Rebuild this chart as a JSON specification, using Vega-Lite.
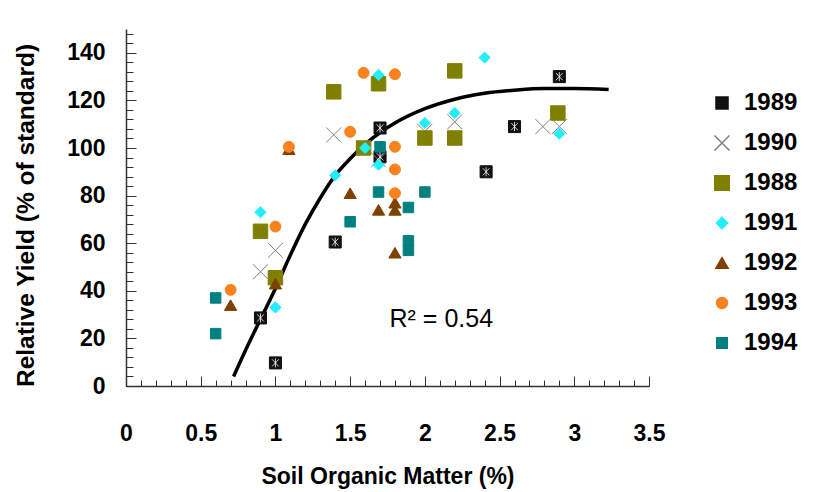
{
  "$schema": "https://vega.github.io/schema/vega-lite/v6.json",
  "width": 523,
  "height": 357,
  "autosize": "none",
  "padding": {"left": 126, "top": 29, "right": 166, "bottom": 106},
  "background": "white",
  "config": {
    "view": {"stroke": null},
    "font": "Liberation Sans",
    "axis": {"grid": false, "domainColor": "#333", "tickColor": "#333", "labelColor": "#000", "titleColor": "#000"}
  },
  "datasets": {
    "curve": [
      {"som": 0.72, "yield": 4}, {"som": 0.8, "yield": 15}, {"som": 0.9, "yield": 28},
      {"som": 1.0, "yield": 41}, {"som": 1.1, "yield": 55}, {"som": 1.2, "yield": 68},
      {"som": 1.3, "yield": 79}, {"som": 1.4, "yield": 88.5}, {"som": 1.5, "yield": 95.5},
      {"som": 1.6, "yield": 101.5}, {"som": 1.7, "yield": 106.5}, {"som": 1.8, "yield": 110.5},
      {"som": 2.0, "yield": 116.5}, {"som": 2.2, "yield": 120.5}, {"som": 2.4, "yield": 123},
      {"som": 2.6, "yield": 124.3}, {"som": 2.8, "yield": 125}, {"som": 3.0, "yield": 125},
      {"som": 3.23, "yield": 124.6}
    ],
    "pts": [
      {"year": "1989", "som": 1.7, "yield": 108.4},
      {"year": "1989", "som": 1.7, "yield": 96.3},
      {"year": "1989", "som": 1.4, "yield": 60.5},
      {"year": "1989", "som": 0.9, "yield": 28.6},
      {"year": "1989", "som": 1.0, "yield": 9.7},
      {"year": "1989", "som": 2.9, "yield": 130},
      {"year": "1989", "som": 2.6, "yield": 109},
      {"year": "1989", "som": 2.41, "yield": 90},
      {"year": "1990", "som": 1.0, "yield": 57},
      {"year": "1990", "som": 0.9, "yield": 48},
      {"year": "1990", "som": 1.39, "yield": 105.5},
      {"year": "1990", "som": 1.69, "yield": 95},
      {"year": "1990", "som": 2.0, "yield": 107},
      {"year": "1990", "som": 2.2, "yield": 111},
      {"year": "1990", "som": 2.79, "yield": 109},
      {"year": "1990", "som": 2.9, "yield": 109},
      {"year": "1988", "som": 1.39, "yield": 123.6},
      {"year": "1988", "som": 1.69, "yield": 127},
      {"year": "1988", "som": 2.2, "yield": 132.4},
      {"year": "1988", "som": 1.59, "yield": 100},
      {"year": "1988", "som": 2.0, "yield": 104.2},
      {"year": "1988", "som": 2.2, "yield": 104.2},
      {"year": "1988", "som": 2.89, "yield": 114.7},
      {"year": "1988", "som": 0.9, "yield": 65},
      {"year": "1988", "som": 1.0, "yield": 45.5},
      {"year": "1991", "som": 0.9, "yield": 73},
      {"year": "1991", "som": 1.0, "yield": 33},
      {"year": "1991", "som": 1.4, "yield": 88.5},
      {"year": "1991", "som": 1.6, "yield": 100},
      {"year": "1991", "som": 1.69, "yield": 130.7},
      {"year": "1991", "som": 1.69, "yield": 93},
      {"year": "1991", "som": 2.0, "yield": 110.5},
      {"year": "1991", "som": 2.2, "yield": 114.7},
      {"year": "1991", "som": 2.4, "yield": 138},
      {"year": "1991", "som": 2.9, "yield": 106},
      {"year": "1992", "som": 1.09, "yield": 99.5},
      {"year": "1992", "som": 1.0, "yield": 43},
      {"year": "1992", "som": 0.7, "yield": 34},
      {"year": "1992", "som": 1.5, "yield": 81},
      {"year": "1992", "som": 1.69, "yield": 74},
      {"year": "1992", "som": 1.8, "yield": 77},
      {"year": "1992", "som": 1.8, "yield": 74},
      {"year": "1992", "som": 1.8, "yield": 56},
      {"year": "1993", "som": 1.09, "yield": 100.5},
      {"year": "1993", "som": 1.0, "yield": 67},
      {"year": "1993", "som": 0.7, "yield": 40.4},
      {"year": "1993", "som": 1.59, "yield": 131.6},
      {"year": "1993", "som": 1.8, "yield": 131},
      {"year": "1993", "som": 1.5, "yield": 106.8},
      {"year": "1993", "som": 1.8, "yield": 100.5},
      {"year": "1993", "som": 1.8, "yield": 91},
      {"year": "1993", "som": 1.8, "yield": 81},
      {"year": "1994", "som": 0.6, "yield": 37},
      {"year": "1994", "som": 0.6, "yield": 22},
      {"year": "1994", "som": 1.7, "yield": 100.5},
      {"year": "1994", "som": 1.69, "yield": 81.5},
      {"year": "1994", "som": 2.0, "yield": 81.5},
      {"year": "1994", "som": 1.89, "yield": 75},
      {"year": "1994", "som": 1.5, "yield": 69},
      {"year": "1994", "som": 1.89, "yield": 61},
      {"year": "1994", "som": 1.89, "yield": 57}
    ]
  },
  "layer": [
    {
      "data": {"name": "curve"},
      "mark": {"type": "line", "color": "black", "strokeWidth": 3.5, "interpolate": "monotone"},
      "encoding": {
        "x": {"field": "som", "type": "quantitative", "scale": {"domain": [0, 3.5], "nice": false, "zero": false},
          "axis": {"orient": "bottom", "values": [0,0.1,0.2,0.3,0.4,0.5,0.6,0.7,0.8,0.9,1,1.1,1.2,1.3,1.4,1.5,1.6,1.7,1.8,1.9,2,2.1,2.2,2.3,2.4,2.5,2.6,2.7,2.8,2.9,3,3.1,3.2,3.3,3.4,3.5],
            "labels": false, "title": null, "tickSize": -6, "domain": true, "domainWidth": 1.5}},
        "y": {"field": "yield", "type": "quantitative", "scale": {"domain": [0, 150], "nice": false},
          "axis": {"orient": "left", "values": [0,4,8,12,16,20,24,28,32,36,40,44,48,52,56,60,64,68,72,76,80,84,88,92,96,100,104,108,112,116,120,124,128,132,136,140,144,148],
            "labels": false, "title": null, "tickSize": -7, "domain": true, "domainWidth": 1.5}}
      }
    },
    {
      "data": {"name": "pts"},
      "mark": {"type": "point", "opacity": 1, "strokeWidth": 1},
      "encoding": {
        "x": {"field": "som", "type": "quantitative",
          "axis": {"orient": "bottom", "values": [0,0.5,1,1.5,2,2.5,3,3.5], "labels": false, "title": null, "tickSize": -10, "domain": false}},
        "y": {"field": "yield", "type": "quantitative",
          "axis": {"orient": "left", "values": [0,20,40,60,80,100,120,140], "labels": false, "title": null, "tickSize": -10, "domain": false}},
        "shape": {"field": "year", "type": "nominal",
          "scale": {"domain": ["1989","1990","1988","1991","1992","1993","1994"],
            "range": ["square", "M-1,-1L1,1M-1,1L1,-1", "square", "diamond", "triangle-up", "circle", "square"]},
          "legend": {"orient": "none", "legendX": 584, "legendY": 62, "title": null, "padding": 0,
            "labelFontSize": 24, "labelFontWeight": "bold", "labelColor": "#000", "labelOffset": 10, "rowPadding": 16}},
        "fill": {"field": "year", "type": "nominal",
          "scale": {"domain": ["1989","1990","1988","1991","1992","1993","1994"],
            "range": ["#111111", "transparent", "#808000", "#22EEF8", "#804000", "#F7821E", "#008080"]}},
        "stroke": {"field": "year", "type": "nominal",
          "scale": {"domain": ["1989","1990","1988","1991","1992","1993","1994"],
            "range": ["#111111", "#808080", "#808000", "#22EEF8", "#804000", "#F7821E", "#008080"]}},
        "size": {"field": "year", "type": "nominal",
          "scale": {"type": "ordinal", "domain": ["1989","1990","1988","1991","1992","1993","1994"],
            "range": [145, 225, 210, 125, 150, 120, 110]}}
      }
    },
    {
      "data": {"name": "pts"},
      "transform": [{"filter": "datum.year === '1989'"}],
      "mark": {"type": "point", "shape": "M-0.55,-0.6L0.55,0.6M-0.55,0.6L0.55,-0.6M0,-0.75L0,0.75", "size": 145, "stroke": "white", "strokeWidth": 0.8, "filled": false, "opacity": 1},
      "encoding": {
        "x": {"field": "som", "type": "quantitative",
          "axis": {"orient": "bottom", "values": [0,0.5,1,1.5,2,2.5,3,3.5], "format": "~g", "ticks": false, "domain": false, "labelPadding": 36,
            "labelFontSize": 23, "labelFontWeight": "bold", "labelFlush": false, "labelOverlap": false,
            "title": "Soil Organic Matter (%)", "titleFontSize": 23, "titleFontWeight": "bold", "titlePadding": 20}},
        "y": {"field": "yield", "type": "quantitative",
          "axis": {"orient": "left", "values": [0,20,40,60,80,100,120,140], "ticks": false, "domain": false, "labelPadding": 21,
            "labelFontSize": 23, "labelFontWeight": "bold", "labelFlush": false, "labelOverlap": false,
            "title": "Relative Yield (% of standard)", "titleFontSize": 24.5, "titleFontWeight": "bold",
            "titleX": -88, "titleY": 186, "titleAngle": -90, "titleBaseline": "bottom", "titleAlign": "center"}}
      }
    },
    {
      "data": {"values": [{"label": "R² = 0.54"}]},
      "mark": {"type": "text", "fontSize": 25, "color": "#000", "align": "center", "baseline": "middle"},
      "encoding": {
        "x": {"datum": 2.11, "type": "quantitative", "axis": null},
        "y": {"datum": 28, "type": "quantitative", "axis": null},
        "text": {"field": "label"}
      }
    }
  ],
  "resolve": {"axis": {"x": "independent", "y": "independent"}}
}
